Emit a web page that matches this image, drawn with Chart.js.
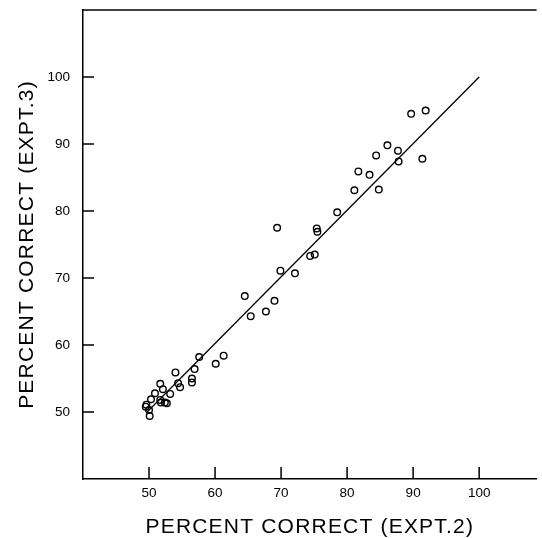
<!DOCTYPE html>
<html>
<head>
<meta charset="utf-8">
<script src="https://cdn.jsdelivr.net/npm/chart.js@4.4.1/dist/chart.umd.min.js"></script>
<style>
  html, body { margin: 0; padding: 0; background: #fff; }
  #wrap { width: 542px; height: 538px; }
</style>
</head>
<body>
<div id="wrap"><canvas id="c" width="542" height="538"></canvas></div>
<script>
// Percent correct, Expt. 2 (x) vs Expt. 3 (y)
const expt2 = [89.7, 91.9, 86.1, 87.7, 84.4, 87.8, 91.4, 81.7, 83.4, 81.1, 84.8, 78.5,
               69.4, 75.4, 75.5, 74.4, 75.1, 69.9, 72.1, 64.5, 69.0, 67.7, 65.4, 61.3, 60.1,
               57.6, 56.9, 56.5, 56.5, 54.0, 54.4, 54.7, 51.7, 52.1, 53.2, 50.9, 50.3, 51.7,
               52.4, 52.7, 51.8, 49.6, 50.0, 50.1, 49.5];
const expt3 = [94.5, 95.0, 89.8, 89.0, 88.3, 87.4, 87.8, 85.9, 85.4, 83.1, 83.2, 79.8,
               77.5, 77.4, 76.9, 73.3, 73.5, 71.1, 70.7, 67.3, 66.6, 65.0, 64.3, 58.4, 57.2,
               58.2, 56.4, 55.0, 54.4, 55.9, 54.3, 53.7, 54.2, 53.4, 52.7, 52.8, 51.9, 51.8,
               51.4, 51.3, 51.4, 51.1, 50.3, 49.4, 50.8];
// fitted line end points
const fitX = [49.6, 100];
const fitY = [49.9, 100];
// tick labels
const xTicks = [50, 60, 70, 80, 90, 100];
const yTicks = [50, 60, 70, 80, 90, 100];
const xTitle = 'PERCENT CORRECT (EXPT.2)';
const yTitle = 'PERCENT CORRECT (EXPT.3)';

const TICKFONT = "'Liberation Sans', Arial, sans-serif";
const TITLEFONT = "'Liberation Sans', Arial, sans-serif";

const frame = {
  id: 'frame',
  afterLayout(chart) {
    ['x', 'y'].forEach(id => {
      const s = chart.scales[id];
      if (s._spaced) return;
      const orig = s.drawTitle.bind(s);
      s.drawTitle = function () {
        const ctx = chart.ctx;
        ctx.save();
        ctx.letterSpacing = '1.2px';
        orig();
        ctx.restore();
      };
      s._spaced = true;
    });
  },
  afterDraw(chart) {
    const ctx = chart.ctx;
    const a = chart.chartArea;
    const xs = chart.scales.x, ys = chart.scales.y;
    ctx.save();
    ctx.strokeStyle = '#000';
    ctx.lineWidth = 1.5;
    ctx.beginPath();
    ctx.moveTo(a.left, a.top);
    ctx.lineTo(a.right, a.top);
    ctx.stroke();
    // inward ticks
    ctx.beginPath();
    xTicks.forEach(v => {
      const px = xs.getPixelForValue(v);
      ctx.moveTo(px, a.bottom);
      ctx.lineTo(px, a.bottom - 12);
    });
    yTicks.forEach(v => {
      const py = ys.getPixelForValue(v);
      ctx.moveTo(a.left, py);
      ctx.lineTo(a.left + 11, py);
    });
    ctx.stroke();
    ctx.restore();
  }
};

new Chart(document.getElementById('c'), {
  type: 'scatter',
  data: {
    datasets: [
      {
        data: expt2.map((x, i) => ({ x, y: expt3[i] })),
        pointStyle: 'circle',
        pointRadius: 3.3,
        pointBorderWidth: 1.4,
        pointBorderColor: '#000',
        pointBackgroundColor: 'rgba(255,255,255,0)',
        showLine: false
      },
      {
        type: 'line',
        data: fitX.map((x, i) => ({ x, y: fitY[i] })),
        borderColor: '#000',
        borderWidth: 1.3,
        pointRadius: 0,
        fill: false
      }
    ]
  },
  options: {
    responsive: false,
    animation: false,
    devicePixelRatio: 1,
    layout: { padding: { top: 10, right: 0, left: 0, bottom: 0 } },
    plugins: { legend: { display: false }, tooltip: { enabled: false } },
    scales: {
      x: {
        type: 'linear',
        min: 40, max: 108.7,
        afterBuildTicks: s => { s.ticks = xTicks.map(v => ({ value: v })); },
        afterFit: s => { s.height = 59; s.paddingLeft = 0; s.paddingRight = 0; },
        grid: { display: false, drawTicks: false },
        border: { display: true, color: '#000', width: 1.5 },
        ticks: { color: '#000', padding: 6, maxRotation: 0, autoSkip: false,
                 font: { family: TICKFONT, size: 13.5 } },
        title: { display: true, text: xTitle, color: '#000',
                 font: { family: TITLEFONT, size: 21, lineHeight: 1 },
                 padding: { top: 0, bottom: 0 } }
      },
      y: {
        type: 'linear',
        min: 40, max: 110,
        afterBuildTicks: s => { s.ticks = yTicks.map(v => ({ value: v })); },
        afterFit: s => { s.width = 83; s.paddingTop = 0; s.paddingBottom = 0; },
        grid: { display: false, drawTicks: false },
        border: { display: true, color: '#000', width: 1.5 },
        ticks: { color: '#000', padding: 13, autoSkip: false,
                 font: { family: TICKFONT, size: 13.5 } },
        title: { display: true, text: yTitle, color: '#000',
                 font: { family: TITLEFONT, size: 21, lineHeight: 1 },
                 padding: { top: 17, bottom: 0 } }
      }
    }
  },
  plugins: [frame]
});
</script>
</body>
</html>
